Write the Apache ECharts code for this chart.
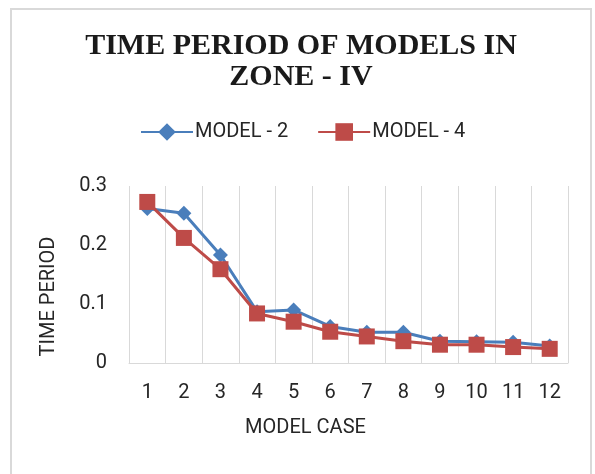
<!DOCTYPE html>
<html>
<head>
<meta charset="utf-8">
<script src="https://cdn.jsdelivr.net/npm/echarts@6/dist/echarts.min.js"></script>
<style>
  html, body { margin: 0; padding: 0; background: #fff; }
  #chart { width: 595px; height: 474px; }
</style>
</head>
<body>
<div id="chart"></div>
<script>
// data
const cases = ['1', '2', '3', '4', '5', '6', '7', '8', '9', '10', '11', '12']
const model2 = [0.262, 0.254, 0.183, 0.087, 0.090, 0.062, 0.052, 0.052, 0.037, 0.036, 0.035, 0.029]
const model4 = [0.273, 0.212, 0.159, 0.084, 0.070, 0.053, 0.045, 0.037, 0.031, 0.031, 0.027, 0.024]
const yTicks = [0, 0.1, 0.2, 0.3]

const labelFont = 'Roboto'
const textColor = '#262626'

const chart = echarts.init(document.getElementById('chart'))
chart.setOption({
  animation: false,
  backgroundColor: '#fff',
  graphic: [{
    type: 'rect',
    shape: { x: 11, y: 9, width: 580, height: 475 },
    style: { fill: 'none', stroke: '#d9d9d9', lineWidth: 2 },
    silent: true
  }],
  title: {
    text: 'TIME PERIOD OF MODELS IN\nZONE - IV',
    left: 301,
    top: 31,
    padding: 0,
    textAlign: 'center',
    textStyle: {
      fontFamily: "'Liberation Serif', serif",
      fontWeight: 'bold',
      fontSize: 30,
      lineHeight: 31,
      color: '#1a1a1a'
    }
  },
  legend: {
    left: 140,
    top: 122,
    padding: 0,
    itemWidth: 52,
    itemHeight: 22,
    itemGap: 29,
    textStyle: { fontFamily: labelFont, fontSize: 20, color: textColor, padding: [0, 0, 0, -3] },
    data: ['MODEL - 2', 'MODEL - 4']
  },
  grid: { left: 129, right: 27, top: 186, bottom: 111 },
  xAxis: {
    type: 'category',
    data: cases,
    boundaryGap: true,
    name: 'MODEL CASE',
    nameLocation: 'middle',
    nameGap: 55,
    nameTextStyle: { fontFamily: labelFont, fontSize: 20, color: textColor, padding: [0, 86, 0, 0] },
    axisLine: { lineStyle: { color: '#d9d9d9' } },
    axisTick: { show: false },
    axisLabel: { fontFamily: labelFont, fontSize: 20, color: textColor, margin: 20 },
    splitLine: { show: true, interval: 0, lineStyle: { color: '#d9d9d9', width: 1 } }
  },
  yAxis: {
    type: 'value',
    min: 0,
    max: 0.3,
    interval: 0.1,
    name: 'TIME PERIOD',
    nameLocation: 'middle',
    nameGap: 70,
    nameTextStyle: { fontFamily: labelFont, fontSize: 20, color: textColor, padding: [0, 44, 0, 0] },
    axisLine: { show: false },
    axisTick: { show: false },
    axisLabel: {
      fontFamily: labelFont, fontSize: 20, color: textColor, margin: 22,
      formatter: v => String(yTicks.find(t => Math.abs(t - v) < 1e-9) ?? v)
    },
    splitLine: { show: false }
  },
  series: [
    {
      name: 'MODEL - 2',
      type: 'line',
      data: model2,
      symbol: 'diamond',
      symbolSize: 15,
      itemStyle: { color: '#4a7ebb' },
      lineStyle: { color: '#4a7ebb', width: 3 }
    },
    {
      name: 'MODEL - 4',
      type: 'line',
      data: model4,
      symbol: 'rect',
      symbolSize: 16,
      itemStyle: { color: '#be4b48' },
      lineStyle: { color: '#be4b48', width: 3 }
    }
  ]
})
</script>
</body>
</html>
